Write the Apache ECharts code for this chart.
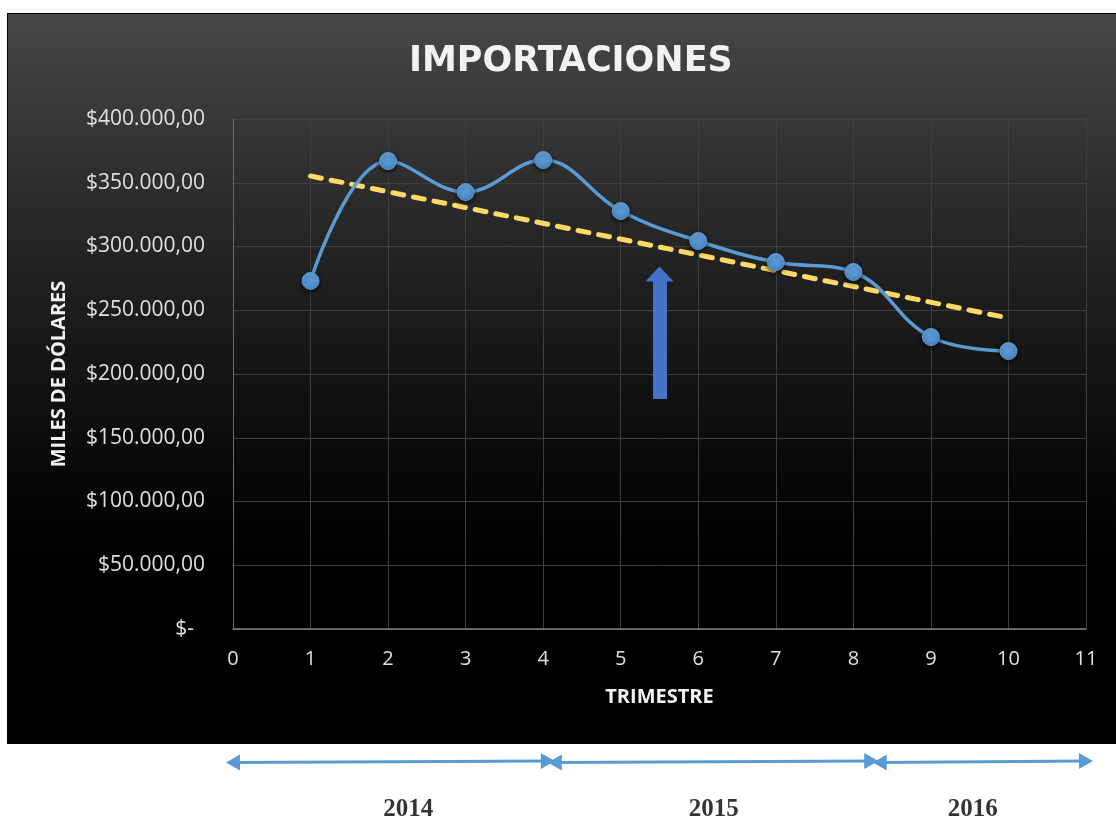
<!DOCTYPE html>
<html>
<head>
<meta charset="utf-8">
<script src="https://cdn.jsdelivr.net/npm/echarts@6/dist/echarts.min.js"></script>
<style>
  html, body { margin: 0; padding: 0; background: #fff; }
  .panel {
    position: absolute; left: 7px; top: 13px; width: 1109px; height: 731px;
    border: 1px solid #000; border-right: none; box-sizing: border-box;
    background: linear-gradient(to bottom, #474747 0%, #262626 30%, #0a0a0a 60%, #000 75%, #000 100%);
  }
  #chart { position: absolute; left: 0; top: 0; width: 1116px; height: 821px; }
</style>
</head>
<body>
<div class="panel"></div>
<div id="chart"></div>
<script>
// trimestres y valores (miles de dólares)
var trimestres = [1, 2, 3, 4, 5, 6, 7, 8, 9, 10];
var importaciones = [273000, 367000, 342700, 367800, 327800, 304300, 287800, 280000, 229000, 218000];
// línea de tendencia (extremos)
var tendenciaX = [1, 10];
var tendenciaY = [355300, 243900];
// flecha azul
var flechaX = 5.5;
var flechaDesde = 180400;
var flechaHasta = 278400;
// años y rangos de trimestres
var anios = ['2014', '2015', '2016'];
var rangosAnios = [[0, 4.06], [4.15, 8.23], [8.34, 11]];
var posAnios = [2.26, 6.2, 9.54];

var chart = echarts.init(document.getElementById('chart'));

function fmtMoneda(v) {
  if (v === 0) return '$-  ';
  var s = String(v).replace(/\B(?=(\d{3})+(?!\d))/g, '.');
  return '$' + s + ',00';
}

var option = {
  backgroundColor: 'transparent',
  animation: false,
  title: {
    text: 'IMPORTACIONES',
    left: 404,
    top: 39,
    textStyle: { color: '#f2f2f2', fontSize: 35, fontWeight: 'bold', fontFamily: 'DejaVu Sans' }
  },
  grid: [
    { left: 233, right: 30, top: 119, bottom: 192 },
    { left: 233, right: 30, top: 745, bottom: 0 }
  ],
  xAxis: [{
    type: 'value', min: 0, max: 11, interval: 1,
    name: 'TRIMESTRE', nameLocation: 'middle', nameGap: 58,
    nameTextStyle: { color: '#f2f2f2', fontSize: 20, fontWeight: 'bold', fontFamily: 'Open Sans' },
    axisLine: { lineStyle: { color: '#7f7f7f', width: 1.5 } },
    axisTick: { show: false },
    axisLabel: { color: '#e0e0e0', fontSize: 20, fontFamily: 'Open Sans', margin: 20 },
    splitLine: { lineStyle: { color: '#3f3f3f', width: 1 } }
  }, {
    gridIndex: 1, type: 'value', min: 0, max: 11, show: false
  }],
  yAxis: [{
    type: 'value', min: 0, max: 400000, interval: 50000,
    name: 'MILES DE DÓLARES', nameLocation: 'middle', nameGap: 164, nameRotate: 90,
    nameTextStyle: { color: '#f2f2f2', fontSize: 20, fontWeight: 'bold', fontFamily: 'Open Sans' },
    axisLine: { show: true, lineStyle: { color: '#6a6a6a' } },
    axisTick: { show: false },
    axisLabel: { color: '#e0e0e0', fontSize: 21, fontFamily: 'Open Sans', margin: 28, formatter: fmtMoneda },
    splitLine: { lineStyle: { color: '#3f3f3f', width: 1 } }
  }, {
    gridIndex: 1, type: 'value', min: 0, max: 1, show: false
  }],
  series: [{
    name: 'Tendencia',
    type: 'line',
    data: tendenciaX.map(function (x, i) { return [x, tendenciaY[i]]; }),
    showSymbol: false,
    lineStyle: { color: '#ffd966', width: 5, type: [11, 10], cap: 'round' },
    z: 2
  }, {
    name: 'Importaciones',
    type: 'line',
    smooth: 0.4,
    data: trimestres.map(function (x, i) { return [x, importaciones[i]]; }),
    symbol: 'circle',
    symbolSize: 17,
    lineStyle: { color: '#5b9bd5', width: 3.5 },
    itemStyle: {
      color: new echarts.graphic.LinearGradient(0, 0, 0, 1, [
        { offset: 0, color: '#6aa8e0' }, { offset: 1, color: '#4a8acb' }
      ]),
      borderColor: '#5b9bd5', borderWidth: 1,
      shadowBlur: 5, shadowColor: 'rgba(0,0,0,0.7)', shadowOffsetY: 2
    },
    markLine: {
      silent: true,
      symbol: ['none', 'triangle'],
      symbolSize: [28, 15],
      label: { show: false },
      lineStyle: { color: '#4673c9', width: 14, type: 'solid' },
      data: [[{ coord: [flechaX, flechaDesde] }, { coord: [flechaX, flechaHasta] }]]
    },
    z: 3
  }, {
    name: 'Años',
    type: 'scatter',
    xAxisIndex: 1, yAxisIndex: 1,
    symbolSize: 0,
    data: anios.map(function (a, i) { return [posAnios[i], 0.15, a]; }),
    label: {
      show: true, position: 'inside',
      formatter: function (p) { return p.value[2]; },
      color: '#000', fontSize: 25, fontWeight: 'bold', fontFamily: 'Liberation Serif'
    },
    markLine: {
      silent: true,
      symbol: ['triangle', 'triangle'],
      symbolSize: [16, 14],
      label: { show: false },
      lineStyle: { color: '#5b9bd5', width: 3, type: 'solid' },
      data: rangosAnios.map(function (r) {
        return [{ coord: [r[0], 0.77] }, { coord: [r[1], 0.79] }];
      })
    }
  }]
};
chart.setOption(option);
</script>
</body>
</html>
